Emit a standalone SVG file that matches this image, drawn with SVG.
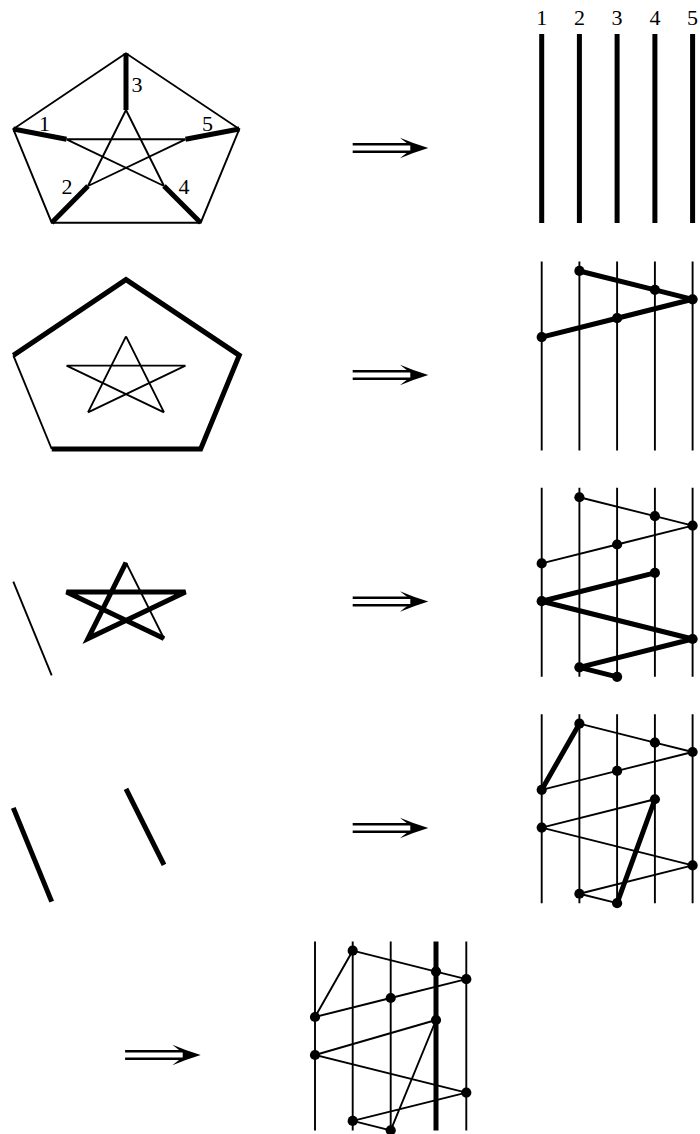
<svg xmlns="http://www.w3.org/2000/svg" xmlns:xlink="http://www.w3.org/1999/xlink" width="700" height="1134" viewBox="0 0 700 1134">
<style>
.thin{stroke:#000;stroke-width:1.9;fill:none;stroke-linejoin:miter}
.thick{stroke:#000;stroke-width:5;fill:none;stroke-linejoin:miter}
.dot{fill:#000}
.lbl{font-family:"Liberation Serif",serif;font-size:22px;text-anchor:middle;fill:#000}
</style>
<defs>
<g id="dblarrow">
<path d="M-75.6,-3.75 H-18 M-75.6,3.75 H-18" stroke="#000" stroke-width="2.4" fill="none"/>
<path d="M0,0 Q-15,-4.6 -28.3,-10.3 Q-23,-5.8 -18,-2.6 L-18,2.6 Q-23,5.8 -28.3,10.3 Q-15,4.6 0,0 Z" fill="#000"/>
</g>
</defs>
<rect width="700" height="1134" fill="#fff"/>

<!-- Row 1 left: Petersen graph -->
<g id="petersen1">
<path class="thin" d="M126,53.3 L13.3,129 L51.7,222.7 L200.7,222.7 L239.3,129 Z"/>
<path class="thin" d="M126,110 L88,186 M126,110 L164,186 M66.5,139.3 L185.5,139.3 M66.5,139.3 L164,186 M185.5,139.3 L88,186"/>
<path class="thick" d="M126,53.3 L126,110 M13.3,129 L66.5,139.3 M239.3,129 L185.5,139.3 M51.7,222.7 L88,186 M200.7,222.7 L164,186"/>
<text class="lbl" x="44.5" y="130.5">1</text>
<text class="lbl" x="67" y="193.5">2</text>
<text class="lbl" x="137" y="91.5">3</text>
<text class="lbl" x="184" y="193.5">4</text>
<text class="lbl" x="207.5" y="130.5">5</text>
</g>

<!-- Row 1 right: five thick lines -->
<g id="lines1">
<path class="thick" d="M541.7,34 V223 M579.4,34 V223 M617.1,34 V223 M654.9,34 V223 M692.6,34 V223"/>
<text class="lbl" x="541.7" y="24.5">1</text>
<text class="lbl" x="579.4" y="24.5">2</text>
<text class="lbl" x="617.1" y="24.5">3</text>
<text class="lbl" x="654.9" y="24.5">4</text>
<text class="lbl" x="692.6" y="24.5">5</text>
</g>

<!-- Row 2 left -->
<g id="petersen2">
<path class="thin" d="M13.3,355.3 L51.7,449"/>
<path class="thick" d="M13.3,355.3 L126,279.6 L239.3,355.3 L200.7,449 L51.7,449"/>
<path class="thin" d="M126,336.3 L88,412.3 M126,336.3 L164,412.3 M66.5,365.6 L185.5,365.6 M66.5,365.6 L164,412.3 M185.5,365.6 L88,412.3"/>
</g>

<!-- Row 3 left -->
<g id="petersen3">
<path class="thin" d="M13.3,581.6 L51.7,675.3"/>
<path class="thin" d="M126,562.6 L164,638.6"/>
<path class="thick" d="M164,638.6 L66.5,591.9 L185.5,591.9 L88,638.6 L126,562.6"/>
</g>

<!-- Row 4 left -->
<g id="petersen4">
<path class="thick" d="M13.3,807.9 L51.7,901.6"/>
<path class="thick" d="M126,788.9 L164,864.9"/>
</g>

<!-- Row 2 right -->
<g id="graph2">
<path class="thin" d="M541.7,261.5 V450.5 M579.4,261.5 V450.5 M617.1,261.5 V450.5 M654.9,261.5 V450.5 M692.6,261.5 V450.5"/>
<path class="thick" d="M579.4,270.95 L654.9,289.85 L692.6,299.3 L617.1,318.2 L541.7,337.1"/>
<g id="g2-2a"><circle class="dot" cx="579.4" cy="270.95" r="5.1"/></g>
<g id="g2-4a"><circle class="dot" cx="654.9" cy="289.85" r="5.1"/></g>
<g id="g2-5a"><circle class="dot" cx="692.6" cy="299.3" r="5.1"/></g>
<g id="g2-3a"><circle class="dot" cx="617.1" cy="318.2" r="5.1"/></g>
<g id="g2-1a"><circle class="dot" cx="541.7" cy="337.1" r="5.1"/></g>
</g>

<!-- Row 3 right -->
<g id="graph3">
<path class="thin" d="M541.7,487.8 V676.8 M579.4,487.8 V676.8 M617.1,487.8 V676.8 M654.9,487.8 V676.8 M692.6,487.8 V676.8"/>
<path class="thin" d="M579.4,497.25 L654.9,516.15 L692.6,525.6 L617.1,544.5 L541.7,563.4"/>
<path class="thick" d="M654.9,572.85 L541.7,601.2 L692.6,639 L579.4,667.35 L617.1,676.8"/>
<g id="g3-2a"><circle class="dot" cx="579.4" cy="497.25" r="5.1"/></g>
<g id="g3-4a"><circle class="dot" cx="654.9" cy="516.15" r="5.1"/></g>
<g id="g3-5a"><circle class="dot" cx="692.6" cy="525.6" r="5.1"/></g>
<g id="g3-3a"><circle class="dot" cx="617.1" cy="544.5" r="5.1"/></g>
<g id="g3-1a"><circle class="dot" cx="541.7" cy="563.4" r="5.1"/></g>
<g id="g3-4b"><circle class="dot" cx="654.9" cy="572.85" r="5.1"/></g>
<g id="g3-1b"><circle class="dot" cx="541.7" cy="601.2" r="5.1"/></g>
<g id="g3-5b"><circle class="dot" cx="692.6" cy="639" r="5.1"/></g>
<g id="g3-2b"><circle class="dot" cx="579.4" cy="667.35" r="5.1"/></g>
<g id="g3-3b"><circle class="dot" cx="617.1" cy="676.8" r="5.1"/></g>
</g>

<!-- Row 4 right -->
<g id="graph4">
<path class="thin" d="M541.7,714.2 V903.2 M579.4,714.2 V903.2 M617.1,714.2 V903.2 M654.9,714.2 V903.2 M692.6,714.2 V903.2"/>
<path class="thin" d="M579.4,723.65 L654.9,742.55 L692.6,752 L617.1,770.9 L541.7,789.8"/>
<path class="thin" d="M654.9,799.25 L541.7,827.6 L692.6,865.4 L579.4,893.75 L617.1,903.2"/>
<path class="thick" d="M541.7,789.8 L579.4,723.65 M654.9,799.25 L617.1,903.2"/>
<g id="g4-2a"><circle class="dot" cx="579.4" cy="723.65" r="5.1"/></g>
<g id="g4-4a"><circle class="dot" cx="654.9" cy="742.55" r="5.1"/></g>
<g id="g4-5a"><circle class="dot" cx="692.6" cy="752" r="5.1"/></g>
<g id="g4-3a"><circle class="dot" cx="617.1" cy="770.9" r="5.1"/></g>
<g id="g4-1a"><circle class="dot" cx="541.7" cy="789.8" r="5.1"/></g>
<g id="g4-4b"><circle class="dot" cx="654.9" cy="799.25" r="5.1"/></g>
<g id="g4-1b"><circle class="dot" cx="541.7" cy="827.6" r="5.1"/></g>
<g id="g4-5b"><circle class="dot" cx="692.6" cy="865.4" r="5.1"/></g>
<g id="g4-2b"><circle class="dot" cx="579.4" cy="893.75" r="5.1"/></g>
<g id="g4-3b"><circle class="dot" cx="617.1" cy="903.2" r="5.1"/></g>
</g>

<!-- Row 5 -->
<g id="graph5">
<path class="thin" d="M315,941.5 V1130.5 M352.7,941.5 V1130.5 M390.7,941.5 V1130.5 M466.3,941.5 V1130.5"/>
<path class="thick" d="M436,941.5 V1130.5"/>
<path class="thin" d="M352.7,950.7 L436,971.6 L466.3,979.2 L390.7,998 L315,1017 Z"/>
<path class="thin" d="M436,1020 L315,1055 L466.3,1092.6 L352.7,1120.9 L390.7,1130.3 Z"/>
<g id="g5-2a"><circle class="dot" cx="352.7" cy="950.7" r="5.1"/></g>
<g id="g5-4a"><circle class="dot" cx="436" cy="971.6" r="5.1"/></g>
<g id="g5-5a"><circle class="dot" cx="466.3" cy="979.2" r="5.1"/></g>
<g id="g5-3a"><circle class="dot" cx="390.7" cy="998" r="5.1"/></g>
<g id="g5-1a"><circle class="dot" cx="315" cy="1017" r="5.1"/></g>
<g id="g5-4b"><circle class="dot" cx="436" cy="1020" r="5.1"/></g>
<g id="g5-1b"><circle class="dot" cx="315" cy="1055" r="5.1"/></g>
<g id="g5-5b"><circle class="dot" cx="466.3" cy="1092.6" r="5.1"/></g>
<g id="g5-2b"><circle class="dot" cx="352.7" cy="1120.9" r="5.1"/></g>
<g id="g5-3b"><circle class="dot" cx="390.7" cy="1130.3" r="5.1"/></g>
</g>

<!-- Connectors: implication arrows -->
<g id="connectors">
<use xlink:href="#dblarrow" transform="translate(428.3,148)"/>
<use xlink:href="#dblarrow" transform="translate(428.3,375)"/>
<use xlink:href="#dblarrow" transform="translate(428.3,601.5)"/>
<use xlink:href="#dblarrow" transform="translate(428.3,828)"/>
<use xlink:href="#dblarrow" transform="translate(200.7,1055)"/>
</g>
</svg>
